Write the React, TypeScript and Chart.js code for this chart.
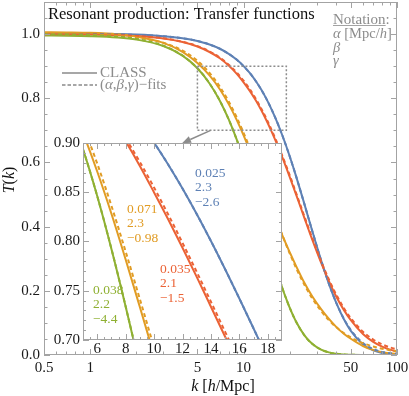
import React, { useEffect, useRef } from "react";
import { Chart, registerables } from "chart.js";
Chart.register(...registerables);

// ---------------- data ----------------
const kValues = [0.5, 0.7, 1, 1.5, 2, 3, 4, 5, 6, 7, 8, 9, 10, 11, 12, 13, 14, 15, 16, 17, 18, 19, 20, 22, 25, 28, 32, 36, 40, 45, 50, 60, 70, 80, 90, 100];

const blueFit = [0.9999, 0.9998, 0.9995, 0.9986, 0.9974, 0.9933, 0.9871, 0.9786, 0.9676, 0.9543, 0.9386, 0.9205, 0.9003, 0.878, 0.8538, 0.8279, 0.8005, 0.7718, 0.7421, 0.7117, 0.6808, 0.6496, 0.6184, 0.5566, 0.4679, 0.3873, 0.2954, 0.2218, 0.1649, 0.1133, 0.0778, 0.0374, 0.0187, 0.0098, 0.0054, 0.0031];
const blueClass = [1.0015, 1.0013, 1.001, 1.0, 0.9984, 0.9935, 0.9871, 0.9786, 0.9676, 0.9543, 0.9386, 0.9205, 0.9003, 0.878, 0.8538, 0.8279, 0.8005, 0.7718, 0.7421, 0.7117, 0.6808, 0.6496, 0.6184, 0.5566, 0.4679, 0.3873, 0.2954, 0.2218, 0.1649, 0.112, 0.075, 0.033, 0.0145, 0.0065, 0.003, 0.0015];

const orangeFit = [0.9996, 0.999, 0.9978, 0.9944, 0.9891, 0.9728, 0.9486, 0.9171, 0.8791, 0.8362, 0.7898, 0.7415, 0.6925, 0.6442, 0.5973, 0.5526, 0.5104, 0.471, 0.4345, 0.4009, 0.37, 0.3418, 0.316, 0.2711, 0.2175, 0.1769, 0.137, 0.1083, 0.0874, 0.0683, 0.0546, 0.0369, 0.0263, 0.0196, 0.0151, 0.0119];
const orangeClass = [1.0056, 1.005, 1.0038, 0.9994, 0.9921, 0.9728, 0.9446, 0.9101, 0.8711, 0.8282, 0.7818, 0.7335, 0.6845, 0.6362, 0.5893, 0.5476, 0.5054, 0.466, 0.4295, 0.3989, 0.37, 0.3438, 0.32, 0.2771, 0.2235, 0.1829, 0.143, 0.1123, 0.0884, 0.0663, 0.0506, 0.028, 0.016, 0.009, 0.0055, 0.0035];

const redFit = [0.9997, 0.9994, 0.9987, 0.9969, 0.9944, 0.9869, 0.9763, 0.9626, 0.946, 0.9266, 0.9047, 0.8807, 0.8548, 0.8273, 0.7986, 0.7691, 0.7388, 0.7083, 0.6778, 0.6475, 0.6175, 0.5882, 0.5595, 0.5047, 0.43, 0.3649, 0.2927, 0.2352, 0.1899, 0.1466, 0.1146, 0.0725, 0.048, 0.0332, 0.0237, 0.0174];
const redClass = [0.9995, 0.9992, 0.9985, 0.9966, 0.994, 0.9862, 0.9753, 0.9613, 0.9442, 0.9246, 0.9017, 0.8767, 0.8498, 0.8223, 0.7936, 0.7641, 0.7338, 0.7033, 0.6728, 0.6425, 0.6125, 0.5832, 0.5545, 0.4997, 0.425, 0.3599, 0.2877, 0.2302, 0.1839, 0.1406, 0.1086, 0.0655, 0.041, 0.0262, 0.0167, 0.0104];

const greenFit = [0.9993, 0.9985, 0.9967, 0.992, 0.985, 0.9638, 0.9331, 0.8936, 0.8462, 0.7925, 0.7341, 0.6725, 0.6098, 0.5475, 0.4869, 0.4293, 0.3753, 0.3257, 0.2808, 0.2406, 0.205, 0.1738, 0.1468, 0.1036, 0.0603, 0.0347, 0.0166, 0.0081, 0.004, 0.0017, 0.0008, 0.0002, 0.0, 0.0, 0.0, 0.0];
const greenClass = [0.9955, 0.995, 0.9935, 0.9895, 0.983, 0.963, 0.9331, 0.8936, 0.8462, 0.7925, 0.7341, 0.6725, 0.6098, 0.5475, 0.4869, 0.4293, 0.3753, 0.3257, 0.2808, 0.2406, 0.205, 0.1738, 0.1468, 0.1036, 0.0603, 0.0347, 0.0166, 0.0081, 0.004, 0.0017, 0.0008, 0.0002, 0.0, 0.0, 0.0, 0.0];

const blueParams = ["0.025", "2.3", "\u22122.6"];
const orangeParams = ["0.071", "2.3", "\u22120.98"];
const redParams = ["0.035", "2.1", "\u22121.5"];
const greenParams = ["0.038", "2.2", "\u22124.4"];

const mainXTicks = [0.5, 1, 5, 10, 50, 100];
const mainXMinor = [0.6, 0.7, 0.8, 0.9, 2, 3, 4, 6, 7, 8, 9, 20, 30, 40, 60, 70, 80, 90];
const mainYTicks = [0, 0.2, 0.4, 0.6, 0.8, 1.0];
const mainYMinor = [0.05, 0.1, 0.15, 0.25, 0.3, 0.35, 0.45, 0.5, 0.55, 0.65, 0.7, 0.75, 0.85, 0.9, 0.95, 1.05];
const insetXTicks = [6, 8, 10, 12, 14, 16, 18];
const insetYTicks = [0.7, 0.75, 0.8, 0.85, 0.9];
const insetRange = { xMin: 5, xMax: 19, yMin: 0.7, yMax: 0.9 };

const titleText = "Resonant production: Transfer functions";

// ---------------- styles ----------------
const SERIF = "'Liberation Serif', 'Times New Roman', Times, serif";
const BLUE = "#5E81B5";
const ORANGE = "#E19C24";
const GREEN = "#8FB032";
const RED = "#EB6235";
const FRAME = "#a3a3a3";
const GRAY_TEXT = "#8c8c8c";
const DASH = [4, 3];

type Run = [string, boolean];

function drawRuns(ctx: CanvasRenderingContext2D, runs: Run[], x: number, y: number, size: number, color: string, align = "left") {
  const widths = runs.map(([t, it]) => {
    ctx.font = `${it ? "italic " : ""}${size}px ${SERIF}`;
    return ctx.measureText(t).width;
  });
  const total = widths.reduce((a, b) => a + b, 0);
  let cx = align === "center" ? x - total / 2 : align === "right" ? x - total : x;
  ctx.fillStyle = color;
  ctx.textBaseline = "middle";
  ctx.textAlign = "left";
  runs.forEach(([t, it], i) => {
    ctx.font = `${it ? "italic " : ""}${size}px ${SERIF}`;
    ctx.fillText(t, cx, y);
    cx += widths[i];
  });
  return total;
}

function series(arr: number[]) {
  return kValues.map((k, i) => ({ x: k, y: arr[i] }));
}

function makeDatasets(lw: number) {
  const defs: [number[], number[], string][] = [
    [greenFit, greenClass, GREEN],
    [orangeFit, orangeClass, ORANGE],
    [redFit, redClass, RED],
    [blueFit, blueClass, BLUE],
  ];
  const dashed = defs.map(([fit, , c]) => ({
    data: series(fit),
    borderColor: c,
    borderWidth: lw,
    borderDash: DASH,
    pointRadius: 0,
    cubicInterpolationMode: "monotone" as const,
    fill: false,
  }));
  const solid = defs.map(([, cls, c]) => ({
    data: series(cls),
    borderColor: c,
    borderWidth: lw,
    pointRadius: 0,
    cubicInterpolationMode: "monotone" as const,
    fill: false,
  }));
  return [...dashed, ...solid];
}

function drawFrameTicks(chart: any, xMaj: number[], xMin: number[], yMaj: number[], yMin: number[], majLen: number, minLen: number) {
  const ctx: CanvasRenderingContext2D = chart.ctx;
  const { left, right, top, bottom } = chart.chartArea;
  const xs = chart.scales.x;
  const ys = chart.scales.y;
  ctx.save();
  ctx.strokeStyle = FRAME;
  ctx.lineWidth = 1;
  ctx.setLineDash([]);
  ctx.strokeRect(Math.round(left) + 0.5, Math.round(top) + 0.5, Math.round(right - left) - 1, Math.round(bottom - top) - 1);
  ctx.beginPath();
  const xt = (v: number, len: number) => {
    const p = Math.round(xs.getPixelForValue(v)) + 0.5;
    ctx.moveTo(p, bottom);
    ctx.lineTo(p, bottom - len);
    ctx.moveTo(p, top);
    ctx.lineTo(p, top + len);
  };
  const yt = (v: number, len: number) => {
    const p = Math.round(ys.getPixelForValue(v)) + 0.5;
    ctx.moveTo(left, p);
    ctx.lineTo(left + len, p);
    ctx.moveTo(right, p);
    ctx.lineTo(right - len, p);
  };
  xMaj.forEach((v) => xt(v, majLen));
  xMin.forEach((v) => xt(v, minLen));
  yMaj.forEach((v) => yt(v, majLen));
  yMin.forEach((v) => yt(v, minLen));
  ctx.stroke();
  ctx.restore();
}

const mainPlugin = {
  id: "mainDecor",
  afterDatasetsDraw(chart: any) {
    drawFrameTicks(chart, mainXTicks, mainXMinor, mainYTicks, mainYMinor, 6, 3.5);
  },
  afterDraw(chart: any) {
    const ctx: CanvasRenderingContext2D = chart.ctx;
    const xs = chart.scales.x;
    const ys = chart.scales.y;
    ctx.save();
    // title
    drawRuns(ctx, [[titleText, false]], 48, 15, 16.5, "#111");
    // notation
    const nw = drawRuns(ctx, [["Notation:", false]], 333, 20, 15, GRAY_TEXT);
    ctx.strokeStyle = GRAY_TEXT;
    ctx.lineWidth = 0.8;
    ctx.beginPath();
    ctx.moveTo(333, 25.5);
    ctx.lineTo(333 + nw - 4, 25.5);
    ctx.stroke();
    drawRuns(ctx, [["\u03b1", true], [" [Mpc/", false], ["h", true], ["]", false]], 333, 34, 14.5, GRAY_TEXT);
    drawRuns(ctx, [["\u03b2", true]], 333, 48, 14.5, GRAY_TEXT);
    drawRuns(ctx, [["\u03b3", true]], 333, 61.5, 14.5, GRAY_TEXT);
    // legend
    ctx.strokeStyle = "#8a8a8a";
    ctx.lineWidth = 1.6;
    ctx.beginPath();
    ctx.moveTo(62, 73);
    ctx.lineTo(97, 73);
    ctx.stroke();
    ctx.setLineDash([3.5, 2]);
    ctx.beginPath();
    ctx.moveTo(62, 85);
    ctx.lineTo(97, 85);
    ctx.stroke();
    ctx.setLineDash([]);
    drawRuns(ctx, [["CLASS", false]], 100, 73, 15, GRAY_TEXT);
    drawRuns(ctx, [["(", false], ["\u03b1", true], [",", false], ["\u03b2", true], [",", false], ["\u03b3", true], [")\u2212fits", false]], 100, 85, 15, GRAY_TEXT);
    // axis titles
    drawRuns(ctx, [["k", true], [" [", false], ["h", true], ["/Mpc]", false]], 223, 387, 16, "#111", "center");
    ctx.save();
    ctx.translate(10, 180);
    ctx.rotate(-Math.PI / 2);
    drawRuns(ctx, [["T", true], ["(", false], ["k", true], [")", false]], 0, 0, 16, "#111", "center");
    ctx.restore();
    // zoom rectangle
    const rx1 = xs.getPixelForValue(insetRange.xMin);
    const rx2 = xs.getPixelForValue(insetRange.xMax);
    const ry1 = ys.getPixelForValue(insetRange.yMax);
    const ry2 = ys.getPixelForValue(insetRange.yMin);
    ctx.strokeStyle = "#8c8c8c";
    ctx.lineWidth = 1.5;
    ctx.setLineDash([2, 2]);
    ctx.strokeRect(rx1, ry1, rx2 - rx1, ry2 - ry1);
    ctx.setLineDash([]);
    // arrow
    const ax1 = xs.getPixelForValue(6.1);
    const ay1 = ry2;
    const ax2 = xs.getPixelForValue(3.97);
    const ay2 = ys.getPixelForValue(0.66);
    const ang = Math.atan2(ay2 - ay1, ax2 - ax1);
    const hl = 9;
    const hw = 3.5;
    const bx = ax2 - hl * Math.cos(ang);
    const by = ay2 - hl * Math.sin(ang);
    ctx.strokeStyle = "#8c8c8c";
    ctx.fillStyle = "#8c8c8c";
    ctx.lineWidth = 1.5;
    ctx.beginPath();
    ctx.moveTo(ax1, ay1);
    ctx.lineTo(bx, by);
    ctx.stroke();
    ctx.beginPath();
    ctx.moveTo(ax2, ay2);
    ctx.lineTo(bx + hw * Math.sin(ang), by - hw * Math.cos(ang));
    ctx.lineTo(bx - hw * Math.sin(ang), by + hw * Math.cos(ang));
    ctx.closePath();
    ctx.fill();
    ctx.restore();
  },
};

const insetMinorX = [5.5, 6.5, 7, 7.5, 8.5, 9, 9.5, 10.5, 11, 11.5, 12.5, 13, 13.5, 14.5, 15, 15.5, 16.5, 17, 17.5, 18.5];
const insetMinorY = [0.71, 0.72, 0.73, 0.74, 0.76, 0.77, 0.78, 0.79, 0.81, 0.82, 0.83, 0.84, 0.86, 0.87, 0.88, 0.89];

const insetPlugin = {
  id: "insetDecor",
  beforeDatasetsDraw(chart: any) {
    const ctx: CanvasRenderingContext2D = chart.ctx;
    const { left, right, top, bottom } = chart.chartArea;
    ctx.save();
    ctx.fillStyle = "#ffffff";
    ctx.fillRect(left, top, right - left, bottom - top);
    ctx.restore();
  },
  afterDatasetsDraw(chart: any) {
    const ctx: CanvasRenderingContext2D = chart.ctx;
    drawFrameTicks(chart, insetXTicks, insetMinorX, insetYTicks, insetMinorY, 6, 3);
    ctx.save();
    const lab = (arr: string[], x: number, y: number, c: string) => {
      arr.forEach((t, i) => drawRuns(ctx, [[t, false]], x, y + i * 14.5, 13.5, c));
    };
    lab(blueParams, 195, 173, BLUE);
    lab(orangeParams, 127, 209, ORANGE);
    lab(redParams, 160, 269, RED);
    lab(greenParams, 93, 290, GREEN);
    ctx.restore();
  },
};

function zeroPad(s: any) {
  s.paddingLeft = 0;
  s.paddingRight = 0;
  s.paddingTop = 0;
  s.paddingBottom = 0;
}

const tickFont = { family: SERIF, size: 15 };

export default function App() {
  const mainRef = useRef<HTMLCanvasElement>(null);
  const insetRef = useRef<HTMLCanvasElement>(null);

  useEffect(() => {
    const main = new Chart(mainRef.current as HTMLCanvasElement, {
      type: "line",
      data: { datasets: makeDatasets(2) as any },
      options: {
        animation: false,
        responsive: false,
        devicePixelRatio: 1,
        events: [],
        layout: { padding: { left: 0, right: 12, top: 2, bottom: 0 } },
        plugins: { legend: { display: false }, tooltip: { enabled: false } },
        scales: {
          x: {
            type: "logarithmic",
            min: 0.5,
            max: 100,
            grid: { display: false, drawTicks: false },
            border: { display: false },
            ticks: { font: tickFont, color: "#1a1a1a", padding: 4, maxRotation: 0, autoSkip: false, callback: (v: any) => String(v) },
            afterBuildTicks: (s: any) => {
              s.ticks = mainXTicks.map((value) => ({ value }));
            },
            afterFit: (s: any) => {
              s.height = 41;
              zeroPad(s);
            },
          },
          y: {
            type: "linear",
            min: 0,
            max: 1.1,
            grid: { display: false, drawTicks: false },
            border: { display: false },
            ticks: { font: tickFont, color: "#1a1a1a", padding: 4, autoSkip: false, callback: (v: any) => Number(v).toFixed(1) },
            afterBuildTicks: (s: any) => {
              s.ticks = mainYTicks.map((value) => ({ value }));
            },
            afterFit: (s: any) => {
              s.width = 44;
              zeroPad(s);
            },
          },
        },
      } as any,
      plugins: [mainPlugin],
    });

    const inset = new Chart(insetRef.current as HTMLCanvasElement, {
      type: "line",
      data: { datasets: makeDatasets(2) as any },
      options: {
        animation: false,
        responsive: false,
        devicePixelRatio: 1,
        events: [],
        layout: { padding: { left: 0, right: 127, top: 143, bottom: 0 } },
        plugins: { legend: { display: false }, tooltip: { enabled: false } },
        scales: {
          x: {
            type: "linear",
            min: insetRange.xMin,
            max: insetRange.xMax,
            grid: { display: false, drawTicks: false },
            border: { display: false },
            ticks: { font: tickFont, color: "#1a1a1a", padding: 0, maxRotation: 0, autoSkip: false, callback: (v: any) => String(v) },
            afterBuildTicks: (s: any) => {
              s.ticks = insetXTicks.map((value) => ({ value }));
            },
            afterFit: (s: any) => {
              s.height = 56;
              zeroPad(s);
            },
          },
          y: {
            type: "linear",
            min: insetRange.yMin,
            max: insetRange.yMax,
            grid: { display: false, drawTicks: false },
            border: { display: false },
            ticks: { font: tickFont, color: "#1a1a1a", padding: 3, autoSkip: false, callback: (v: any) => Number(v).toFixed(2) },
            afterBuildTicks: (s: any) => {
              s.ticks = insetYTicks.map((value) => ({ value }));
            },
            afterFit: (s: any) => {
              s.width = 83;
              zeroPad(s);
            },
          },
        },
      } as any,
      plugins: [insetPlugin],
    });

    return () => {
      main.destroy();
      inset.destroy();
    };
  }, []);

  return (
    <div style={{ position: "fixed", left: 0, top: 0, width: 409, height: 396, background: "#ffffff" }}>
      <canvas ref={mainRef} width={409} height={396} style={{ position: "absolute", left: 0, top: 0 }} />
      <canvas ref={insetRef} width={409} height={396} style={{ position: "absolute", left: 0, top: 0 }} />
    </div>
  );
}
